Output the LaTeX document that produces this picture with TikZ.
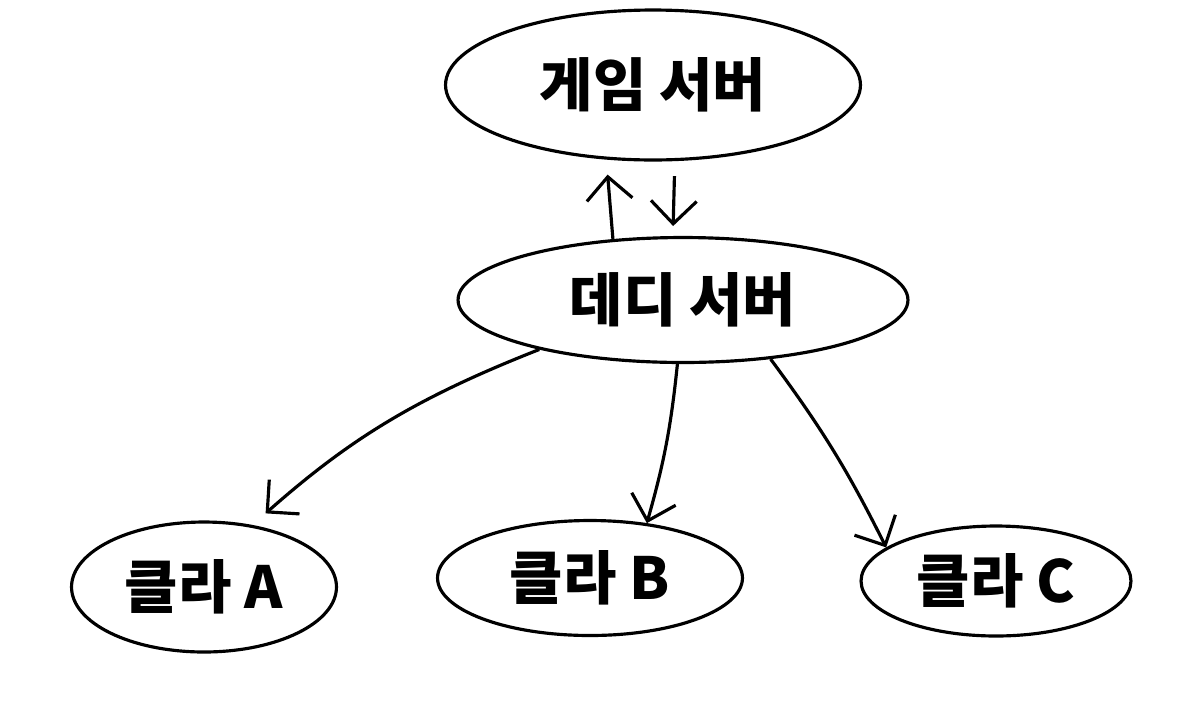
\documentclass[tikz,border=0pt]{standalone}
\usepackage{fontspec}
\newfontfamily\krfont{Noto Sans CJK KR}
\usetikzlibrary{shapes.geometric,arrows.meta}

\begin{document}
\begin{tikzpicture}[x=0.02cm, y=-0.02cm,
  blob/.style={ellipse, draw, line width=1.8pt, inner sep=0pt,
    font=\krfont\bfseries\fontsize{33}{38}\selectfont},
  arr/.style={line width=1.8pt, -{Straight Barb[length=13pt, width=26pt, line width=1.8pt]}}]
  \useasboundingbox (0,0) rectangle (1199,714);
  \node[blob, minimum width=8.3cm, minimum height=3cm] (game) at (653,85) {게임 서버};
  \node[blob, minimum width=9cm, minimum height=2.5cm] (dedi) at (683,300) {데디 서버};
  \node[blob, minimum width=5.3cm, minimum height=2.6cm] (cla) at (204,587) {클라 A};
  \node[blob, minimum width=6.1cm, minimum height=2.3cm] (clb) at (590,578) {클라 B};
  \node[blob, minimum width=5.4cm, minimum height=2.2cm] (clc) at (996,581) {클라 C};
  \draw[arr, shorten >=0.3cm] (dedi.139) -- (game.238);
  \draw[arr, shorten <=0.3cm, shorten >=0.2cm] (game.286) -- (dedi.99);
  \draw[arr, shorten >=0.35cm] (dedi.199) to[bend right=10] (cla.52);
  \draw[arr] (dedi.265) to[bend left=5] (clb.44);
  \draw[arr] (dedi.326) to[bend left=5] (clc.163);
\end{tikzpicture}
\end{document}
